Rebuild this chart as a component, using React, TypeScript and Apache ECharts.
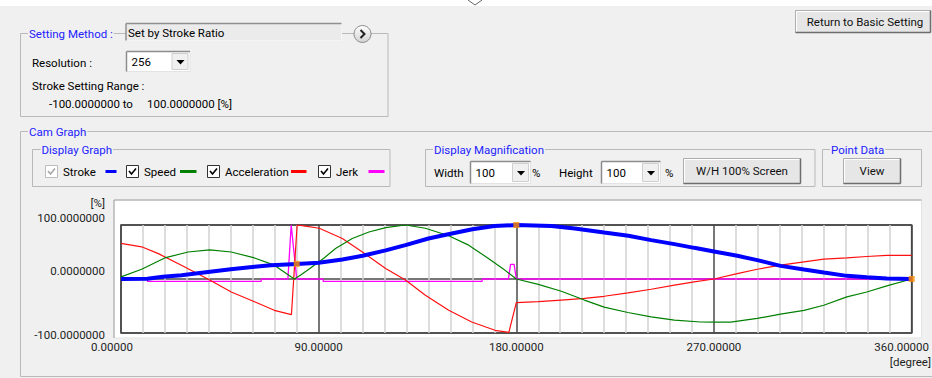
import React, { useEffect, useRef } from "react";
import * as echarts from "echarts";

// ---- data (degrees / percent) ----
const strokeDeg = [0, 12, 19, 27.5, 39.6, 50, 60.8, 68.3, 80, 90, 100.8, 110, 120.5, 129.5, 140, 149, 160, 170, 180, 196, 206.6, 220, 231, 241.4, 252, 261, 270, 280.6, 289.7, 300.3, 311, 320, 330.5, 339.6, 348.7, 360];
const strokeVal = [0, 0.5, 4, 7, 13, 18, 22.5, 25.6, 28, 30, 36, 43, 53, 62.7, 75, 83, 92, 98, 100, 98, 93.7, 86, 80, 72, 64.6, 57.7, 51, 43, 35, 24.3, 17.6, 12, 5.8, 3.3, 1, 0];

const speedDeg = [0, 9.4, 19.9, 30.5, 40.4, 50.2, 60.8, 69.8, 77.4, 79, 82, 86, 92.5, 97.7, 105.3, 112.9, 120.5, 129.5, 138.6, 149.2, 158.3, 167.3, 174.9, 180, 190, 200.5, 211, 220, 230.8, 241.4, 252, 264, 270, 277.6, 289.7, 300.3, 311, 320, 330.5, 339.6, 348.7, 360];
const speedVal = [4, 18, 39, 50, 54, 50, 39, 25.6, 4, 0, 8, 19.5, 39, 56.6, 75, 87, 95, 100, 94, 80, 62.7, 38, 16, 0, -10, -22.6, -39, -52, -62, -70, -76, -79.6, -80, -80, -73, -65, -58, -48.6, -33, -24, -12.8, 0];

const accelDeg = [0, 9.4, 17, 27.5, 40.4, 50.2, 60.8, 69.8, 77.6, 80.2, 84, 90.3, 100.8, 109.9, 120.5, 129.5, 138.6, 149.2, 159.7, 170.3, 176.6, 180, 190, 200.5, 211, 220, 230.8, 241.4, 252, 261, 270, 280.6, 289.7, 300.3, 311, 320, 330.5, 339.6, 348.7, 360];
const accelVal = [66, 59.6, 47, 25.6, -2, -24, -42, -58, -66, 100, 98, 94, 75, 50, 19.5, -2, -30, -58, -79.6, -95, -99, -43.6, -42, -39, -36, -32, -25.8, -19, -11.5, -5.4, 0, 10, 18, 25.6, 31.7, 36.7, 39, 41.7, 43.6, 43.6];

const jerkDeg = [0, 12, 12.1, 63.8, 63.9, 76, 77.5, 80, 92, 92.1, 164.4, 164.5, 176.4, 177.4, 179, 180, 360];
const jerkVal = [0, 0, -4.5, -4.5, 0, 0, 100, 0, 0, -4.5, -4.5, 0, 0, 27, 27, 0, 0];

const markerDeg = [80, 180, 360];
const markerVal = [28, 100, 0];

const xTicks = [0, 90, 180, 270, 360];
const yTicks = [-100, 0, 100];

const FAM = "Roboto, 'Noto Sans', sans-serif";
const FS = 11.5;
const FONT = `${FS}px ${FAM}`;
const BLUE_LABEL = "#2222ff";
const BOX = "#b9b9b9";

const zip = (a: number[], b: number[]) => a.map((v, i) => [v, b[i]]);

function text(x: number, y: number, t: string, fill = "#000", align = "left", extra: any = {}) {
  return {
    type: "text",
    x,
    y,
    style: { text: t, fill, font: FONT, textAlign: align, textVerticalAlign: "middle", ...extra },
  };
}

function groupBox(x: number, y: number, w: number, h: number, label: string, lx: number) {
  return [
    { type: "rect", shape: { x, y, width: w, height: h }, style: { fill: "none", stroke: BOX, lineWidth: 1 } },
    text(lx, y, label, BLUE_LABEL, "left", { backgroundColor: "#f0f0f0", padding: [0, 1, 0, 1] }),
  ];
}

function line(x1: number, y1: number, x2: number, y2: number, stroke: string, lineWidth = 1) {
  return { type: "line", shape: { x1, y1, x2, y2 }, style: { stroke, lineWidth } };
}

function button(x: number, y: number, w: number, h: number, label: string, tx: number) {
  return [
    { type: "rect", shape: { x, y, width: w, height: h }, style: { fill: "#e6e6e6", stroke: "#adadad", lineWidth: 1 } },
    line(x + 1, y + 1, x + w - 1, y + 1, "#ffffff"),
    line(x + 1, y + 1, x + 1, y + h - 1, "#ffffff"),
    line(x, y + h, x + w, y + h, "#6e6e6e", 1.5),
    line(x + w, y, x + w, y + h, "#6e6e6e", 1.5),
    text(tx, y + h / 2, label, "#111", "center"),
  ];
}

function combo(x: number, y: number, w: number, h: number, value: string) {
  const bx = x + w - 18;
  const cx = bx + 8.5;
  const cy = y + h / 2 + 0.5;
  return [
    { type: "rect", shape: { x, y, width: w, height: h }, style: { fill: "#ffffff", stroke: "#e3e3e3", lineWidth: 1 } },
    line(x, y, x + w, y, "#8c8c8c", 1.5),
    line(x, y, x, y + h, "#8c8c8c", 1.5),
    { type: "rect", shape: { x: bx, y: y + 2, width: 16, height: h - 4 }, style: { fill: "#f0f0f0", stroke: "#cfcfcf", lineWidth: 1 } },
    { type: "polygon", shape: { points: [[cx - 4, cy - 2], [cx + 4, cy - 2], [cx, cy + 2.5]] }, style: { fill: "#000" } },
    text(x + 5, y + h / 2, value),
  ];
}

function checkbox(x: number, y: number, enabled: boolean) {
  const c = enabled ? "#000" : "#a8a8a8";
  return [
    { type: "rect", shape: { x, y, width: 12, height: 12 }, style: { fill: "#ffffff", stroke: enabled ? "#333" : "#bcbcbc", lineWidth: 1 } },
    { type: "polyline", shape: { points: [[x + 2.5, y + 5.5], [x + 5, y + 8.5], [x + 9.5, y + 3]] }, style: { stroke: c, lineWidth: 1.6, fill: "none" } },
  ];
}

function buildGraphics() {
  const els: any[] = [];
  // top white strip & chevron
  els.push({ type: "rect", shape: { x: 0, y: 0, width: 932, height: 6 }, style: { fill: "#ffffff" } });
  els.push({ type: "polyline", shape: { points: [[468, 0], [475, 5], [482, 0]] }, style: { stroke: "#666", lineWidth: 1, fill: "none" } });

  // Return button
  els.push(...button(795.5, 10.5, 135, 22, "Return to Basic Setting", 865));

  // Setting Method group
  els.push(...groupBox(20.5, 33.5, 367.5, 83, "Setting Method :", 28));
  els.push({ type: "rect", shape: { x: 126, y: 23.5, width: 215.5, height: 17 }, style: { fill: "#ebebeb", stroke: "#f5f5f5", lineWidth: 1 } });
  els.push(line(126, 23.5, 341.5, 23.5, "#8f8f8f", 1.5));
  els.push(line(126, 23.5, 126, 40.5, "#8f8f8f", 1.5));
  els.push(text(128, 32.5, "Set by Stroke Ratio"));
  els.push({
    type: "circle",
    shape: { cx: 362.5, cy: 34, r: 8.5 },
    style: {
      fill: new echarts.graphic.LinearGradient(0, 0, 0, 1, [
        { offset: 0, color: "#ffffff" },
        { offset: 1, color: "#d2d2d2" },
      ]),
      stroke: "#8a8a8a",
      lineWidth: 1,
    },
  });
  els.push({ type: "polyline", shape: { points: [[360.5, 30], [364.5, 34], [360.5, 38]] }, style: { stroke: "#222", lineWidth: 2, fill: "none" } });
  els.push(text(32, 63.3, "Resolution :"));
  els.push(...combo(126.5, 51.5, 63.5, 20, "256"));
  els.push(text(32, 86, "Stroke Setting Range :"));
  els.push(text(49, 104.3, "-100.0000000 to"));
  els.push(text(147, 104.3, "100.0000000 [%]"));

  // Cam Graph group
  els.push(...groupBox(20.5, 131.5, 1000, 245, "Cam Graph", 28));

  // Display Graph
  els.push(...groupBox(32.5, 149.5, 357.5, 37, "Display Graph", 40.5));
  els.push(...checkbox(45.5, 165.5, false));
  els.push(text(63, 171.5, "Stroke"));
  els.push(line(105.5, 171.5, 116.5, 171.5, "#0000ff", 3));
  els.push(...checkbox(126.5, 165.5, true));
  els.push(text(144, 171.5, "Speed"));
  els.push(line(180, 171.5, 196.5, 171.5, "#008000", 3));
  els.push(...checkbox(207.5, 165.5, true));
  els.push(text(225, 171.5, "Acceleration"));
  els.push(line(291, 171.5, 306.5, 171.5, "#ff0000", 3));
  els.push(...checkbox(318.5, 165.5, true));
  els.push(text(336, 171.5, "Jerk"));
  els.push(line(368.5, 171.5, 384.5, 171.5, "#ff00ff", 3));

  // Display Magnification
  els.push(...groupBox(425.5, 149.5, 389.5, 37, "Display Magnification", 433));
  els.push(text(434, 172.5, "Width"));
  els.push(...combo(470.5, 161.5, 60, 22, "100"));
  els.push(text(532, 172.5, "%"));
  els.push(text(559, 172.5, "Height"));
  els.push(...combo(601.5, 161.5, 59, 22, "100"));
  els.push(text(665, 172.5, "%"));
  els.push(...button(683.5, 158.5, 117, 25, "W/H 100% Screen", 742));

  // Point Data
  els.push(...groupBox(822.5, 149.5, 99, 37, "Point Data", 830));
  els.push(...button(843.5, 158.5, 57, 25, "View", 872));

  // chart white area
  els.push({ type: "rect", z: -1, shape: { x: 114, y: 200, width: 807.5, height: 138 }, style: { fill: "#ffffff", stroke: "#e3e3e3", lineWidth: 1 } });
  els.push({ type: "line", z: -1, shape: { x1: 114, y1: 200, x2: 921.5, y2: 200 }, style: { stroke: "#a0a0a0", lineWidth: 1 } });
  els.push({ type: "line", z: -1, shape: { x1: 114, y1: 200, x2: 114, y2: 338 }, style: { stroke: "#a0a0a0", lineWidth: 1 } });

  // axis units
  els.push(text(105, 203, "[%]", "#1e1e1e", "right"));
  els.push(text(931, 362, "[degree]", "#1e1e1e", "right"));
  return els;
}

export default function App() {
  const ref = useRef<HTMLDivElement>(null);
  useEffect(() => {
    if (!ref.current) return;
    const chart = echarts.init(ref.current, undefined, { renderer: "svg" });
    const option: any = {
      animation: false,
      backgroundColor: "#f0f0f0",
      textStyle: { fontFamily: FAM },
      grid: { left: 121, right: 17, top: 225, bottom: 45, show: true, borderColor: "#3c3c3c", borderWidth: 1.5, backgroundColor: "transparent" },
      xAxis: {
        type: "value",
        min: xTicks[0],
        max: xTicks[xTicks.length - 1],
        interval: 90,
        axisLine: { show: false },
        axisTick: { show: false },
        axisLabel: {
          margin: 8,
          fontFamily: FAM,
          fontSize: FS,
          color: "#1e1e1e",
          formatter: (v: number) => {
            const s = v.toFixed(5);
            if (v === 0) return `{l|${s}}`;
            if (v === 360) return `{r|${s}}`;
            return s;
          },
          rich: {
            l: { fontFamily: FAM, fontSize: FS, color: "#1e1e1e", padding: [0, 18, 0, 0] },
            r: { fontFamily: FAM, fontSize: FS, color: "#1e1e1e", padding: [0, 20, 0, 0] },
          },
        },
        splitLine: { show: true, lineStyle: { color: "#4a4a4a", width: 1.5 } },
        minorTick: { show: false, splitNumber: 9 },
        minorSplitLine: { show: true, lineStyle: { color: "#d2d2d2", width: 1.5 } },
      },
      yAxis: {
        type: "value",
        min: yTicks[0],
        max: yTicks[yTicks.length - 1],
        interval: 100,
        axisLine: { show: false },
        axisTick: { show: false },
        axisLabel: {
          margin: 16,
          fontFamily: FAM,
          fontSize: FS,
          color: "#1e1e1e",
          formatter: (v: number) => {
            const s = v.toFixed(7);
            if (v === 100) return `{a|${s}}`;
            if (v === 0) return `{b|${s}}`;
            return `{c|${s}}`;
          },
          rich: {
            a: { fontFamily: FAM, fontSize: FS, color: "#1e1e1e", padding: [0, 0, 14, 0] },
            b: { fontFamily: FAM, fontSize: FS, color: "#1e1e1e", padding: [0, 0, 16, 0] },
            c: { fontFamily: FAM, fontSize: FS, color: "#1e1e1e", padding: [4, 0, 0, 0] },
          },
        },
        splitLine: { show: true, lineStyle: { color: "#4a4a4a", width: 1.5 } },
      },
      graphic: { elements: buildGraphics() },
      series: [
        { type: "line", name: "Jerk", data: zip(jerkDeg, jerkVal), symbol: "none", silent: true, z: 3, lineStyle: { color: "#ff00ff", width: 1.3 } },
        { type: "line", name: "Acceleration", data: zip(accelDeg, accelVal), symbol: "none", silent: true, z: 4, lineStyle: { color: "#ff1010", width: 1.2 } },
        { type: "line", name: "Speed", data: zip(speedDeg, speedVal), symbol: "none", silent: true, z: 5, lineStyle: { color: "#008000", width: 1.2 } },
        { type: "line", name: "Stroke", data: zip(strokeDeg, strokeVal), symbol: "none", silent: true, z: 6, lineStyle: { color: "#0000ff", width: 4 } },
        { type: "scatter", name: "Points", data: zip(markerDeg, markerVal), symbol: "rect", symbolSize: 6, clip: false, silent: true, z: 7, itemStyle: { color: "#ff8c00" } },
      ],
    };
    chart.setOption(option);
    return () => chart.dispose();
  }, []);
  return <div ref={ref} style={{ position: "fixed", left: 0, top: 0, width: 932, height: 378 }} />;
}
